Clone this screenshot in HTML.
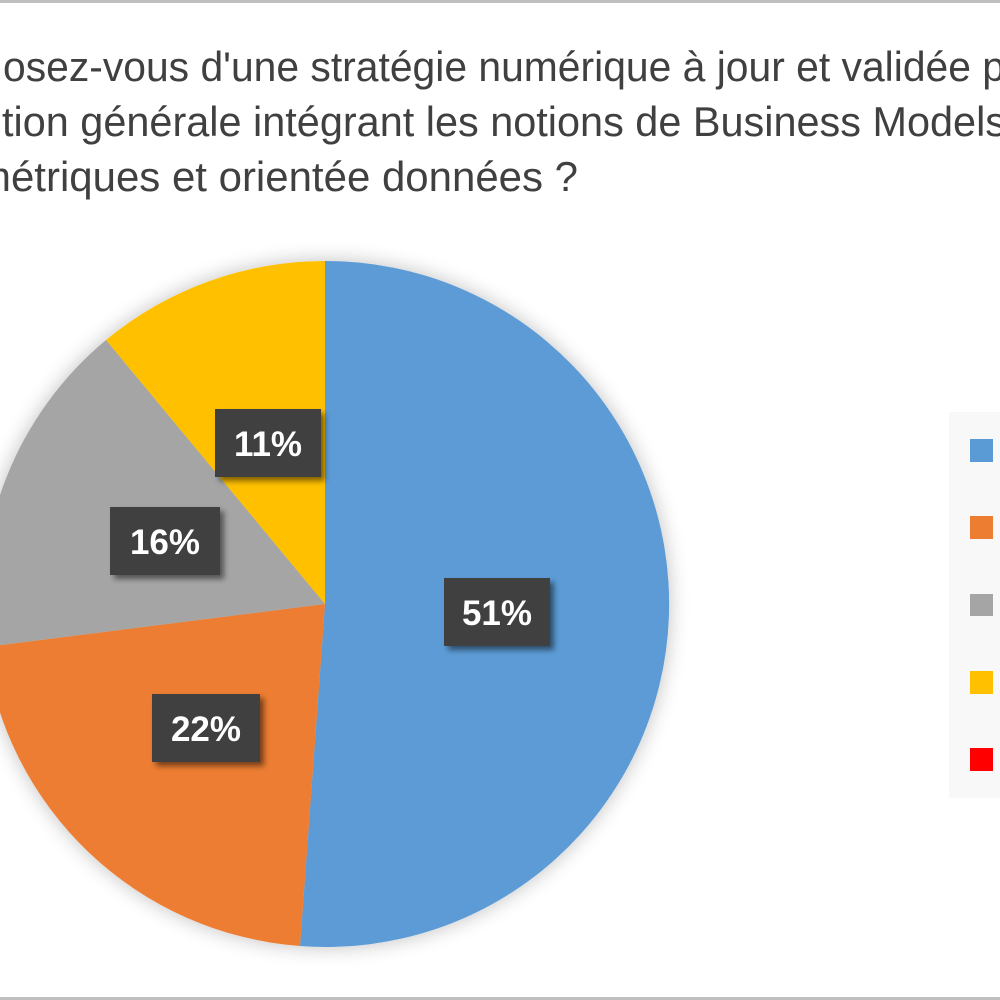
<!DOCTYPE html>
<html><head><meta charset="utf-8"><style>
html,body{margin:0;padding:0;background:#fff;width:1000px;height:1000px;overflow:hidden}
</style></head><body>
<svg width="1000" height="1000" viewBox="0 0 1000 1000" xmlns="http://www.w3.org/2000/svg">
<defs>
<filter id="sh" x="-20%" y="-20%" width="150%" height="150%"><feGaussianBlur in="SourceAlpha" stdDeviation="3"/><feOffset dx="4" dy="4"/><feComponentTransfer><feFuncA type="linear" slope="0.5"/></feComponentTransfer><feMerge><feMergeNode/><feMergeNode in="SourceGraphic"/></feMerge></filter>
<filter id="ps" x="-20%" y="-20%" width="140%" height="140%"><feGaussianBlur in="SourceAlpha" stdDeviation="10"/><feComponentTransfer><feFuncA type="linear" slope="0.25"/></feComponentTransfer><feMerge><feMergeNode/><feMergeNode in="SourceGraphic"/></feMerge></filter>
</defs>
<rect x="0" y="0" width="1000" height="3" fill="#bfbfbf"/>
<rect x="0" y="997" width="1000" height="3" fill="#bfbfbf"/>
<g font-family="Liberation Sans, sans-serif" font-size="42" fill="#404040">
<text x="3" y="81" textLength="1002" lengthAdjust="spacingAndGlyphs">osez-vous d'une stratégie numérique à jour et validée p</text>
<text x="2" y="136" textLength="1004" lengthAdjust="spacingAndGlyphs">tion générale intégrant les notions de Business Models</text>
<text x="-24" y="191" textLength="602" lengthAdjust="spacingAndGlyphs">métriques et orientée données ?</text>
</g>
<g filter="url(#ps)">
<path d="M325,604 L325,261 A343,343 0 1 1 300,946 Z" fill="#5b9bd5"/>
<path d="M325,604 L300,946 A343,343 0 0 1 -15,647 Z" fill="#ed7d31"/>
<path d="M325,604 L-15,647 A343,343 0 0 1 106,340 Z" fill="#a5a5a5"/>
<path d="M325,604 L106,340 A343,343 0 0 1 325,261 Z" fill="#ffc000"/>
</g>
<g font-family="Liberation Sans, sans-serif" font-size="35" font-weight="bold" fill="#fff" text-anchor="middle">
<rect x="215" y="409" width="106" height="68" fill="#404040" filter="url(#sh)"/>
<text x="268" y="456">11%</text>
<rect x="110" y="507" width="110" height="68" fill="#404040" filter="url(#sh)"/>
<text x="165" y="554">16%</text>
<rect x="444" y="578" width="106" height="68" fill="#404040" filter="url(#sh)"/>
<text x="497" y="625">51%</text>
<rect x="152" y="694" width="108" height="68" fill="#404040" filter="url(#sh)"/>
<text x="206" y="741">22%</text>
</g>
<rect x="949" y="412" width="51" height="386" fill="#f8f8f8"/>
<rect x="970" y="439" width="23" height="23" fill="#5b9bd5"/>
<rect x="970" y="516" width="23" height="23" fill="#ed7d31"/>
<rect x="970" y="594" width="23" height="22" fill="#a5a5a5"/>
<rect x="970" y="671" width="23" height="23" fill="#ffc000"/>
<rect x="970" y="748" width="23" height="23" fill="#ff0000"/>
</svg>
</body></html>
